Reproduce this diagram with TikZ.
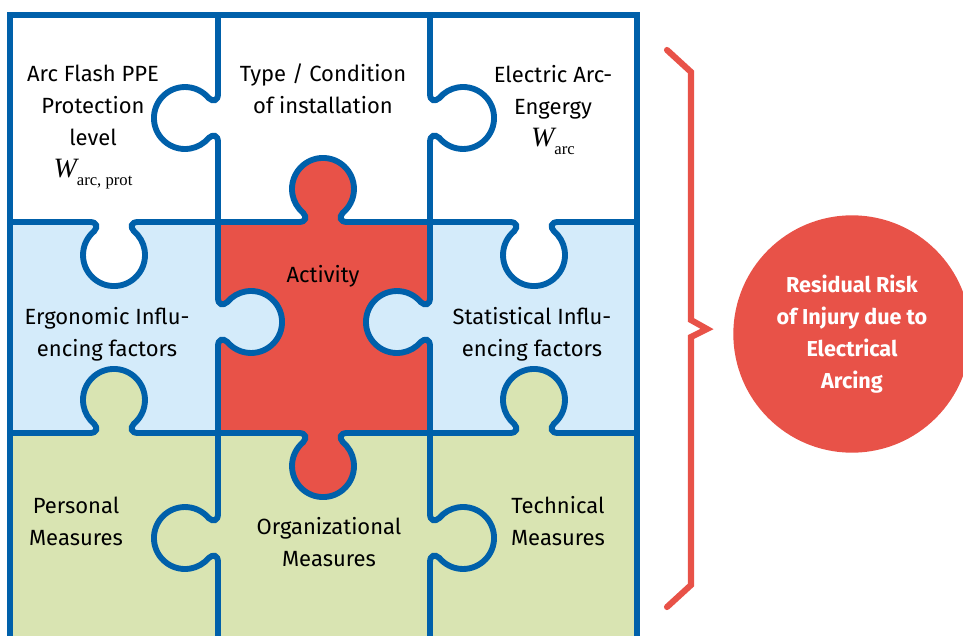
\documentclass[tikz,border=0pt]{standalone}
\usepackage[no-math]{fontspec}
\setmainfont{Fira Sans}
\newfontfamily\serifw{Liberation Serif}
\usepackage{amsmath}
\usetikzlibrary{positioning}
\definecolor{pzblue}{RGB}{0,96,170}
\definecolor{pzsky}{RGB}{212,235,250}
\definecolor{pzred}{RGB}{232,82,72}
\definecolor{pzgreen}{RGB}{217,228,178}
\tikzset{%
	rim/.style      = {draw=pzblue, line width=4.4pt}, % piece outline
	ptext/.style    = {align=center, inner sep=0pt, font=\fontsize{16.5}{24}\selectfont}, % piece text
	risk/.style     = {circle, fill=pzred, text=white, inner sep=0pt, minimum size=178pt,
	                   align=center, font=\fontsize{16.2}{24}\selectfont\bfseries}, % result
	bracket/.style  = {draw=pzred, line width=4.6pt, line cap=round, line join=miter}, % brace
}
% energy symbol W with its index
\newcommand{\wsym}[1]{{\serifw\fontsize{21}{24}\selectfont\itshape W}\raisebox{-6pt}{\serifw\fontsize{12.5}{14}\selectfont #1}}
% knob: x, y on the seam, direction (0 down, 90 right, 180 up, 270 left), colour
\newcommand{\knob}[4]{%
	\begin{scope}[shift={(#1,#2)}, rotate=#3]
		\fill[#4] (-24,-5) -- (-24,0) .. controls (-17,0) and (-16,5) .. (-19.9,9.3)
			arc[start angle=230, end angle=-50, radius=31]
			.. controls (16,5) and (17,0) .. (24,0) -- (24,-5) -- cycle;
		\draw[rim] (-32,0) -- (-24,0) .. controls (-17,0) and (-16,5) .. (-19.9,9.3)
			arc[start angle=230, end angle=-50, radius=31]
			.. controls (16,5) and (17,0) .. (24,0) -- (32,0);
	\end{scope}}

\begin{document}
\begin{tikzpicture}[x=0.75pt, y=-0.75pt]
		\useasboundingbox (0,0) rectangle (963,635);
		\clip (0,0) rectangle (963,635);
		% pieces
		\fill[white]   (10,15)  rectangle (637,222);
		\fill[pzsky]   (10,222) rectangle (637,433);
		\fill[pzred]   (218,222) rectangle (430,433);
		\fill[pzgreen] (10,433) rectangle (637,650);
		\draw[rim] (10,650) -- (10,15) -- (637,15) -- (637,650);
		\draw[rim] (10,222) -- (637,222);
		\draw[rim] (10,433) -- (637,433);
		\draw[rim] (218,15) -- (218,650);
		\draw[rim] (430,15) -- (430,650);
		% knobs
		\knob{218}{118}{270}{white}
		\knob{430}{118}{90}{white}
		\knob{218}{322}{90}{pzsky}
		\knob{430}{322}{270}{pzsky}
		\knob{218}{538}{270}{pzgreen}
		\knob{430}{538}{90}{pzgreen}
		\knob{114}{222}{0}{white}
		\knob{323}{222}{180}{pzred}
		\knob{534}{222}{0}{white}
		\knob{114}{433}{180}{pzgreen}
		\knob{323}{433}{0}{pzred}
		\knob{534}{433}{180}{pzgreen}
		% texts
		\node[ptext] (ppe) at (93,127) {Arc Flash PPE\\Protection\\level\\\wsym{arc, prot}};
		\node[ptext] (type) at (323,89) {Type / Condition\\of installation};
		\node[ptext] (energy) at (553,110) {Electric Arc-\\Engergy\\\wsym{arc}};
		\node[ptext] (act) at (323,276) {Activity};
		\node[ptext] (ergo) at (107,334) {Ergonomic Influ-\\encing factors};
		\node[ptext] (stat) at (532,334) {Statistical Influ-\\encing factors};
		\node[ptext] (pers) at (76,521) {Personal\\Measures};
		\node[ptext] (orga) at (329,542) {Organizational\\Measures};
		\node[ptext] (tech) at (558,521) {Technical\\Measures};
		% result
		\node[risk] (res) at (852,334) {Residual Risk\\of Injury due to\\Electrical\\Arcing};
		\draw[bracket] (667,50) -- (691,72) -- (691,320) -- (707,329) -- (691,337) -- (691,585) -- (667,607);
\end{tikzpicture}
\end{document}
